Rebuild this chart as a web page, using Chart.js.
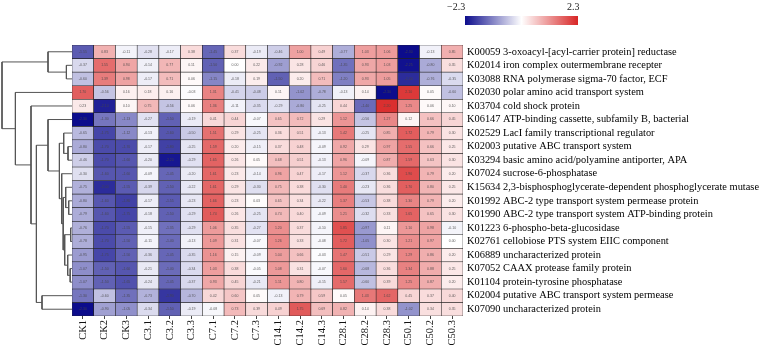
<!DOCTYPE html>
<html>
<head>
<meta charset="utf-8">
<script src="https://cdn.jsdelivr.net/npm/chart.js@4.4.1/dist/chart.umd.min.js"></script>
<style>
  body { margin: 0; background: #fff; }
  #wrap { position: relative; width: 767px; height: 350px; overflow: hidden; }
  #heat { position: absolute; left: 0; top: 0; }
  #tree { position: absolute; left: 0; top: 0; }
  #bar { position: absolute; left: 465px; top: 16px; width: 113px; height: 9px; }
  .lab { position: absolute; top: 1px; font: 10px "Liberation Serif", serif; color: #222; }
</style>
</head>
<body>
<div id="wrap">
  <canvas id="heat" width="767" height="350"></canvas>
  <canvas id="tree" width="73" height="350"></canvas>
  <div id="bar"></div>
  <span class="lab" style="left:447px">−2.3</span>
  <span class="lab" style="left:567px">2.3</span>
</div>
<script>
var columns = ['CK1', 'CK2', 'CK3', 'C3.1', 'C3.2', 'C3.3', 'C7.1', 'C7.2', 'C7.3',
    'C14.1', 'C14.2', 'C14.3', 'C28.1', 'C28.2', 'C28.3', 'C50.1', 'C50.2', 'C50.3'];

var rowIds = ['K00059', 'K02014', 'K03088', 'K02030', 'K03704', 'K06147', 'K02529', 'K02003',
    'K03294', 'K07024', 'K15634', 'K01992', 'K01990', 'K01223', 'K02761', 'K06889',
    'K07052', 'K01104', 'K02004', 'K07090'];

var rowNames = ['3-oxoacyl-[acyl-carrier protein] reductase',
    'iron complex outermembrane recepter',
    'RNA polymerase sigma-70 factor, ECF',
    'polar amino acid transport system',
    'cold shock protein',
    'ATP-binding cassette, subfamily B, bacterial',
    'LacI family transcriptional regulator',
    'putative ABC transport system',
    'basic amino acid/polyamine antiporter, APA',
    'sucrose-6-phosphatase',
    '2,3-bisphosphoglycerate-dependent phosphoglycerate mutase',
    'ABC-2 type transport system permease protein',
    'ABC-2 type transport system ATP-binding protein',
    '6-phospho-beta-glucosidase',
    'cellobiose PTS system EIIC component',
    'uncharacterized protein',
    'CAAX protease family protein',
    'protein-tyrosine phosphatase',
    'putative ABC transport system permease',
    'uncharacterized protein'];

// z-scores, one row per KO, columns as above
var values = [
    [-1.55, 0.83, -0.11, -0.28, -0.17, 0.38, -1.45, 0.37, -0.19, -0.46, 1.00, 0.49, -0.77, 1.03, 1.06, -2.30, -0.13, 0.85],
    [-0.37, 1.55, 0.94, -0.14, 0.77, 0.11, -1.50, 0.00, 0.22, -0.92, 0.28, 0.46, -1.35, 0.93, 1.03, -2.25, -0.80, 0.35],
    [-0.60, 1.39, 0.98, -0.17, 0.71, 0.06, -1.15, -0.18, 0.19, -1.50, 0.20, 0.71, -1.20, 0.93, 1.05, -2.00, -0.76, -0.35],
    [1.70, -0.56, 0.16, 0.18, 0.16, -0.03, 1.31, -0.41, -0.48, 0.11, -1.02, -0.78, -0.13, 0.14, -2.30, 2.10, 0.05, -0.60],
    [0.23, -2.10, 0.10, 0.75, -0.56, 0.06, 1.36, -0.11, -0.35, -0.29, -0.80, -0.25, 0.44, -1.40, 2.20, 1.25, 0.06, 0.10],
    [-2.30, -1.30, -1.13, -0.27, -1.50, -0.19, 0.41, 0.44, -0.07, 0.65, 0.72, 0.29, 1.12, -0.56, 1.27, 0.12, 0.66, 0.45],
    [-0.65, -1.75, -1.12, -0.13, -1.60, -0.50, 1.51, 0.29, -0.25, 0.36, 0.51, -0.13, 1.42, -0.25, 0.85, 1.72, 0.79, 0.30],
    [-0.80, -1.70, -1.70, -0.17, -1.80, -0.25, 1.59, 0.20, -0.15, 0.37, 0.48, -0.09, 0.92, 0.29, 0.97, 1.55, 0.66, 0.25],
    [-0.46, -1.70, -1.60, -0.20, -2.20, -0.29, 1.65, 0.26, 0.05, 0.68, 0.51, -0.13, 0.96, -0.09, 0.87, 1.59, 0.63, 0.30],
    [-0.30, -1.60, -1.60, -0.09, -1.45, -0.20, 1.61, 0.23, -0.14, 0.96, 0.47, -0.17, 1.12, -0.37, 0.36, 1.90, 0.79, 0.20],
    [-0.75, -2.00, -1.55, -0.39, -1.50, -0.22, 1.61, 0.29, -0.30, 0.75, 0.38, -0.30, 1.40, -0.23, 0.36, 1.70, 0.80, 0.25],
    [-0.80, -1.60, -1.80, -0.17, -1.55, -0.23, 1.66, 0.23, 0.03, 0.65, 0.34, -0.22, 1.37, -0.53, 0.38, 1.30, 0.79, 0.20],
    [-0.79, -1.60, -1.75, -0.18, -1.50, -0.29, 1.74, 0.26, -0.25, 0.74, 0.40, -0.09, 1.21, -0.32, 0.33, 1.65, 0.65, 0.30],
    [-0.76, -1.70, -1.55, -0.15, -1.35, -0.29, 1.06, 0.35, -0.27, 1.20, 0.37, -0.10, 1.85, -0.97, 0.11, 1.10, 0.98, -0.10],
    [-0.78, -1.70, -1.50, -0.11, -1.40, -0.13, 1.09, 0.31, -0.07, 1.26, 0.33, -0.08, 1.72, -1.05, 0.30, 1.21, 0.97, 0.00],
    [-0.95, -1.75, -1.50, -0.36, -1.45, -0.35, 1.16, 0.15, -0.09, 1.04, 0.66, -0.03, 1.47, -0.51, 0.29, 1.29, 0.86, 0.20],
    [-1.07, -1.50, -1.60, -0.21, -1.40, -0.34, 1.03, 0.38, -0.05, 1.08, 0.31, -0.07, 1.60, -0.68, 0.36, 1.34, 0.88, 0.25],
    [-1.07, -1.50, -1.65, -0.24, -1.45, -0.37, 0.93, 0.45, -0.21, 1.11, 0.80, -0.15, 1.57, -0.60, 0.39, 1.25, 0.87, 0.20],
    [-1.30, -0.60, -1.35, -0.73, -1.90, -0.70, 0.42, 0.60, 0.05, -0.13, 0.79, 0.59, 0.05, 1.43, 1.62, 0.45, 0.37, 0.40],
    [-2.30, -0.90, -1.05, -0.34, -1.50, -0.19, -0.08, 0.73, 0.39, 0.49, 1.75, 0.69, 0.82, 0.14, 0.38, -1.02, 0.34, 0.35]
];

// row dendrogram, hclust style: negative = leaf row (1-based), positive = earlier merge
var mergeLeft = [-2, -1, -8, -7, -12, -11, -14, -17, -16, 7, 6, -10, 4, -6, -19, 14, -5, -4, 2];
var mergeRight = [-3, 1, -9, 3, -13, 5, -15, -18, 8, 9, 10, 11, 12, 13, -20, 15, 16, 17, 18];
var mergeHeight = [5.6, 24.0, 4.0, 8.3, 3.3, 6.3, 1.3, 1.8, 4.3, 7.3, 8.8, 10.3, 12.6, 24.0, 30.0, 35.6, 41.0, 56.6, 70.0];

var lowColor = [12, 12, 140];
var highColor = [216, 38, 38];
var limit = 2.3;

function cellColor(v) {
    var t = Math.max(-1, Math.min(1, v / limit));
    var end = t < 0 ? lowColor : highColor;
    var a = Math.abs(t);
    var c = end.map(function (e) { return Math.round(255 + (e - 255) * a); });
    return 'rgb(' + c.join(',') + ')';
}

document.getElementById('bar').style.background =
    'linear-gradient(to right, ' + cellColor(-limit) + ', #ffffff, ' + cellColor(limit) + ')';

var serif = '"Liberation Serif", "DejaVu Serif", serif';

// tiny value text inside each cell
var cellText = {
    id: 'cellText',
    afterDatasetsDraw: function (chart) {
        var ctx = chart.ctx;
        ctx.save();
        ctx.font = '3.5px "Liberation Sans", sans-serif';
        ctx.fillStyle = 'rgba(70,70,70,0.85)';
        ctx.textAlign = 'center';
        ctx.textBaseline = 'middle';
        chart.data.datasets.forEach(function (ds, r) {
            chart.getDatasetMeta(r).data.forEach(function (bar, c) {
                var p = bar.getProps(['x', 'y', 'base'], true);
                ctx.fillText(values[r][c].toFixed(2), p.x, (p.y + p.base) / 2);
            });
        });
        ctx.restore();
    }
};

var heatSets = rowIds.map(function (id, r) {
    return {
        label: id,
        data: values[r].map(function () { return [r, r + 1]; }),
        backgroundColor: values[r].map(cellColor),
        borderColor: '#222',
        borderWidth: 0.6,
        borderSkipped: false,
        grouped: false,
        barPercentage: 1,
        categoryPercentage: 1,
        yAxisID: 'y'
    };
});

new Chart(document.getElementById('heat').getContext('2d'), {
    type: 'bar',
    data: { labels: columns, datasets: heatSets },
    options: {
        responsive: false,
        animation: false,
        layout: { padding: { left: 72, top: 45, right: 0, bottom: 0 } },
        plugins: { legend: { display: false }, tooltip: { enabled: false } },
        scales: {
            x: {
                type: 'category',
                position: 'bottom',
                grid: { display: true, drawOnChartArea: false, offset: false, tickLength: 3, color: '#444' },
                border: { display: false },
                ticks: { minRotation: 90, maxRotation: 90, padding: 1, color: '#111', font: { family: serif, size: 10.5 } },
                afterFit: function (s) { s.height = 34; }
            },
            y: { type: 'linear', min: 0, max: 20, reverse: true, display: false },
            yl: {
                type: 'category',
                labels: rowIds.map(function (id, i) { return id + ' ' + rowNames[i]; }),
                position: 'right',
                offset: true,
                grid: { display: false, drawTicks: false },
                border: { display: false },
                ticks: { autoSkip: false, padding: 4, color: '#000', crossAlign: 'near', font: { family: serif, size: 10.4 } },
                afterFit: function (s) { s.width = 304; }
            }
        }
    },
    plugins: [cellText]
});

// build dendrogram segments from the merge table
var nodePos = [];
var nodeHeight = [];
function childInfo(ref) {
    if (ref < 0) return { y: -ref - 0.5, h: 0 };
    return { y: nodePos[ref - 1], h: nodeHeight[ref - 1] };
}
var treeSets = [];
for (var i = 0; i < mergeHeight.length; i++) {
    var a = childInfo(mergeLeft[i]);
    var b = childInfo(mergeRight[i]);
    var h = mergeHeight[i];
    nodePos.push((a.y + b.y) / 2);
    nodeHeight.push(h);
    treeSets.push({
        data: [{ x: a.h, y: a.y }, { x: h, y: a.y }, { x: h, y: b.y }, { x: b.h, y: b.y }],
        showLine: true,
        borderColor: '#555',
        borderWidth: 1,
        pointRadius: 0,
        clip: false
    });
}

new Chart(document.getElementById('tree').getContext('2d'), {
    type: 'scatter',
    data: { datasets: treeSets },
    options: {
        responsive: false,
        animation: false,
        layout: { padding: { left: 0, right: 1, top: 45, bottom: 34 } },
        plugins: { legend: { display: false }, tooltip: { enabled: false } },
        scales: {
            x: { type: 'linear', min: 0, max: 72, reverse: true, display: false },
            y: { type: 'linear', min: 0, max: 20, reverse: true, display: false }
        }
    }
});
</script>
</body>
</html>
